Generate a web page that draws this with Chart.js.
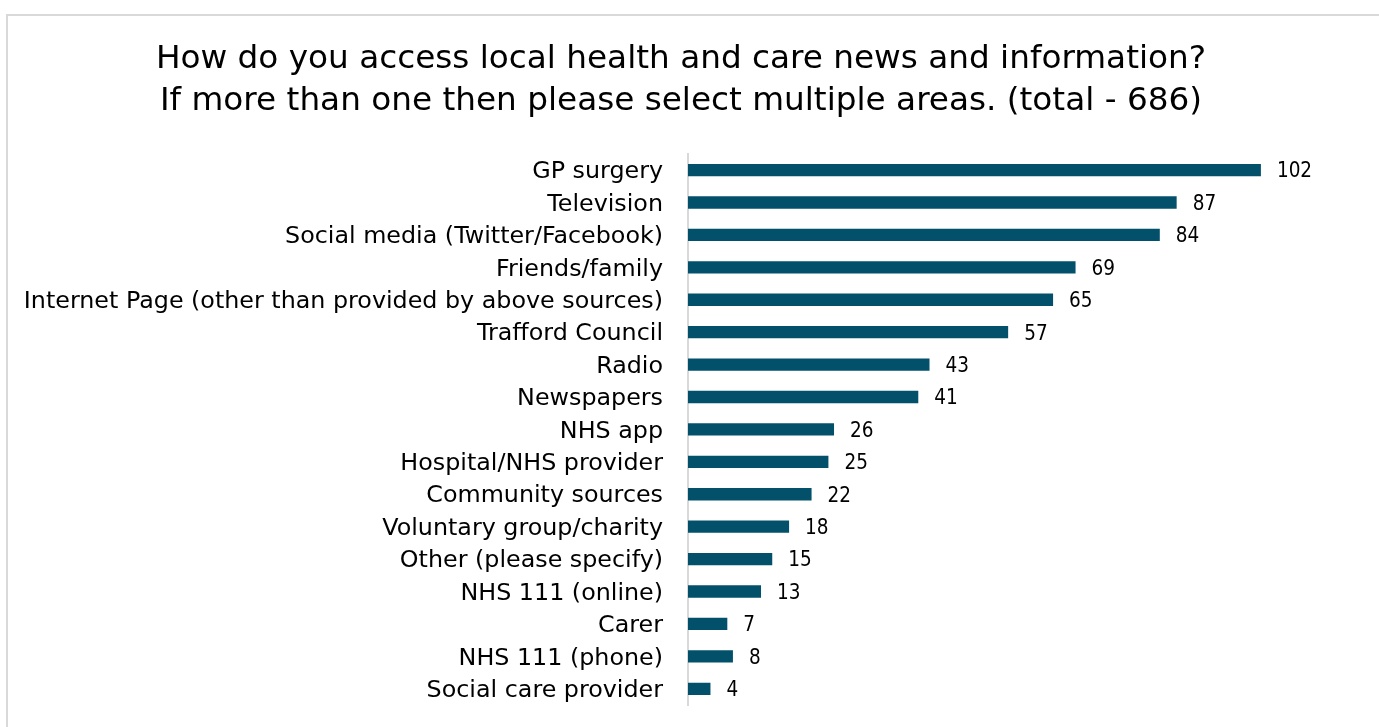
<!DOCTYPE html>
<html>
<head>
<meta charset="utf-8">
<script src="https://cdn.jsdelivr.net/npm/chart.js@4/dist/chart.umd.min.js"></script>
<style>
  html, body { margin: 0; padding: 0; background: #fff; overflow: hidden; }
  #frame { position: absolute; left: 6px; top: 14px; width: 1500px; height: 800px; border: 2px solid #d9d9d9; box-sizing: border-box; }
  #wrap { position: absolute; left: 0; top: 0; width: 1379px; height: 727px; }
</style>
</head>
<body>
<div id="frame"></div>
<div id="wrap"><canvas id="grafico"></canvas></div>
<script>
const categorias = [
  'GP surgery',
  'Television',
  'Social media (Twitter/Facebook)',
  'Friends/family',
  'Internet Page (other than provided by above sources)',
  'Trafford Council',
  'Radio',
  'Newspapers',
  'NHS app',
  'Hospital/NHS provider',
  'Community sources',
  'Voluntary group/charity',
  'Other (please specify)',
  'NHS 111 (online)',
  'Carer',
  'NHS 111 (phone)',
  'Social care provider'
];
const respostas = [102, 87, 84, 69, 65, 57, 43, 41, 26, 25, 22, 18, 15, 13, 7, 8, 4];
const titulo = [
  'How do you access local health and care news and information?',
  'If more than one then please select multiple areas. (total - 686)'
];

const fonte = '"DejaVu Sans", sans-serif';
const fonteNumeros = '"DejaVu Sans Condensed", "DejaVu Sans", sans-serif';
const corBarra = '#03506b';

// values written just past the end of each bar
const rotulos = {
  id: 'rotulos',
  afterDatasetsDraw(chart) {
    const c = chart.ctx;
    const meta = chart.getDatasetMeta(0);
    c.save();
    c.font = '20.5px ' + fonteNumeros;
    c.fillStyle = '#000';
    c.textAlign = 'left';
    c.textBaseline = 'middle';
    meta.data.forEach((bar, i) => {
      c.fillText(String(respostas[i]), bar.x + 16, bar.y + 2);
    });
    c.restore();
  }
};

new Chart(document.getElementById('grafico').getContext('2d'), {
  type: 'bar',
  data: {
    labels: categorias,
    datasets: [{
      data: respostas,
      backgroundColor: corBarra,
      borderWidth: 0,
      categoryPercentage: 1,
      barPercentage: 0.38
    }]
  },
  options: {
    indexAxis: 'y',
    responsive: true,
    maintainAspectRatio: false,
    animation: false,
    layout: { padding: { top: 38, right: 17, bottom: 22, left: 0 } },
    plugins: {
      legend: { display: false },
      tooltip: { enabled: false },
      title: {
        display: true,
        text: titulo,
        color: '#000',
        font: { family: fonte, size: 32.7, weight: 'normal', lineHeight: 1.29 },
        padding: { top: 0, bottom: 31.5 }
      }
    },
    scales: {
      x: {
        display: false,
        min: 0,
        max: 120
      },
      y: {
        // fixed label column; no extra vertical padding from the tick labels
        afterFit(scale) {
          scale.width = 688;
          scale.paddingTop = 0;
          scale.paddingBottom = 0;
        },
        grid: { display: false, drawTicks: false },
        border: { display: true, color: '#d9d9d9', width: 2 },
        ticks: {
          padding: 25,
          labelOffset: 2,
          color: '#000',
          font: { family: fonte, size: 23.8 },
          autoSkip: false
        }
      }
    }
  },
  plugins: [rotulos]
});
</script>
</body>
</html>
